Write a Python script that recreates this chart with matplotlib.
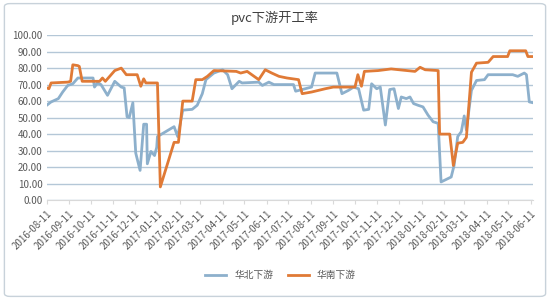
import numpy as np
import pandas as pd
import matplotlib
matplotlib.use('Agg')
import matplotlib.pyplot as plt
from matplotlib.patches import FancyBboxPatch

plt.rcParams['font.family'] = ['Noto Sans CJK SC', 'DejaVu Sans']

# 华北下游
north_dates = ['2016-08-11', '2016-08-17', '2016-08-27', '2016-09-02', '2016-09-09', '2016-09-16',
               '2016-09-23', '2016-10-14', '2016-10-16', '2016-10-20', '2016-10-25', '2016-11-03',
               '2016-11-13', '2016-11-22', '2016-11-26', '2016-11-30', '2016-12-03', '2016-12-08',
               '2016-12-12', '2016-12-18', '2016-12-23', '2016-12-27', '2016-12-28', '2017-01-02',
               '2017-01-07', '2017-01-10', '2017-01-11', '2017-02-03', '2017-02-08', '2017-02-15',
               '2017-02-28', '2017-03-07', '2017-03-14', '2017-03-19', '2017-03-30', '2017-04-11',
               '2017-04-18', '2017-04-24', '2017-05-04', '2017-05-08', '2017-05-31', '2017-06-05',
               '2017-06-14', '2017-06-21', '2017-07-18', '2017-07-21', '2017-07-30', '2017-08-12',
               '2017-08-17', '2017-09-16', '2017-09-23', '2017-10-02', '2017-10-09', '2017-10-16',
               '2017-10-23', '2017-10-30', '2017-11-03', '2017-11-10', '2017-11-15', '2017-11-22',
               '2017-11-28', '2017-12-04', '2017-12-10', '2017-12-14', '2017-12-21', '2017-12-26',
               '2017-12-31', '2018-01-06', '2018-01-13', '2018-01-20', '2018-01-27', '2018-02-03',
               '2018-02-07', '2018-02-21', '2018-02-25', '2018-03-02', '2018-03-07', '2018-03-11',
               '2018-03-14', '2018-03-21', '2018-03-28', '2018-04-08', '2018-04-13', '2018-05-17',
               '2018-05-24', '2018-06-02', '2018-06-05', '2018-06-09', '2018-06-14']
north_vals = [57.5, 59.5, 61.5, 65.5, 69.5, 70.5,
              74, 74, 68.5, 71, 70, 63.5,
              72, 68.5, 68, 50.5, 50, 59,
              28.5, 18, 46, 46, 22, 29.5,
              27, 32, 38.5, 44.5, 38.5, 54.5,
              55, 57.5, 64.5, 73, 77, 79,
              76, 67.5, 72, 71, 71.5, 69.5,
              71.5, 70, 70, 66, 67, 68.5,
              77, 77, 64.5, 66.5, 68.5, 67.5,
              54.5, 55, 70.5, 67.5, 68.5, 45.5,
              67, 67.5, 55.5, 62.5, 61.5, 62.5,
              58.5, 57.5, 56.5, 51.5, 47.5, 46.5,
              11, 14, 21, 38.5, 41.5, 51,
              42.5, 66.5, 72.5, 73, 76, 76,
              75, 77, 76, 59.5, 59]

# 华南下游
south_dates = ['2016-08-11', '2016-08-14', '2016-08-17', '2016-09-09', '2016-09-13', '2016-09-16',
               '2016-09-23', '2016-09-25', '2016-09-29', '2016-10-23', '2016-10-27', '2016-10-31',
               '2016-11-13', '2016-11-22', '2016-11-29', '2016-12-14', '2016-12-19', '2016-12-23',
               '2016-12-26', '2017-01-11', '2017-01-15', '2017-02-03', '2017-02-09', '2017-02-15',
               '2017-02-28', '2017-03-05', '2017-03-14', '2017-03-21', '2017-03-30', '2017-04-30',
               '2017-05-06', '2017-05-15', '2017-05-31', '2017-06-09', '2017-06-18', '2017-06-28',
               '2017-07-09', '2017-07-25', '2017-07-30', '2017-08-12', '2017-08-31', '2017-09-11',
               '2017-10-11', '2017-10-15', '2017-10-20', '2017-10-24', '2017-11-12', '2017-11-30',
               '2018-01-02', '2018-01-09', '2018-01-16', '2018-02-03', '2018-02-05', '2018-02-19',
               '2018-02-24', '2018-03-02', '2018-03-09', '2018-03-14', '2018-03-21', '2018-03-28',
               '2018-04-13', '2018-04-20', '2018-05-10', '2018-05-13', '2018-06-04', '2018-06-07',
               '2018-06-14']
south_vals = [68, 67.5, 71, 71.5, 72, 82,
              81.5, 81, 72, 72, 74, 72,
              78.5, 80, 76, 76, 69, 73.5,
              71, 71, 8, 35, 35, 60,
              60, 73, 73, 75, 78.5, 78,
              77, 78, 73, 79, 77, 75,
              74, 73, 64.5, 65.5, 67.5, 68.5,
              68.5, 76, 69, 78, 78.5, 79.5,
              78, 80.5, 79, 78.5, 40, 40,
              21, 34.5, 35, 38, 77.5, 83,
              83.5, 87, 87, 90.5, 90.5, 87,
              87]

tick_dates = pd.date_range('2016-08-01', '2018-06-01', freq='MS') + pd.Timedelta(days=10)
y_ticks = np.arange(0, 101, 10)

fig = plt.figure(figsize=(5.5, 3.0), dpi=100)
ax = fig.add_axes([0.085, 0.333, 0.884, 0.55])

ax.plot(pd.to_datetime(north_dates), north_vals, color='#8db0cc', lw=2.0, label='华北下游')
ax.plot(pd.to_datetime(south_dates), south_vals, color='#e07a36', lw=2.0, label='华南下游')

ax.set_ylim(0, 100)
ax.set_xlim(pd.Timestamp('2016-08-11'), pd.Timestamp('2018-06-14'))
ax.set_yticks(y_ticks)
ax.set_yticklabels(['%.2f' % v for v in y_ticks], fontsize=7, color='#595959')
ax.set_xticks(tick_dates)
ax.set_xticklabels([d.strftime('%Y-%m-%d') for d in tick_dates], rotation=45,
                   ha='right', rotation_mode='anchor', fontsize=7, color='#595959')
ax.tick_params(axis='y', length=0, pad=3)
ax.tick_params(axis='x', length=3, color='#d9d9d9', pad=3)

ax.grid(axis='y', color='#b4c7d7', lw=1.0)
ax.set_axisbelow(True)
for s in ['top', 'right', 'left']:
    ax.spines[s].set_visible(False)
ax.spines['bottom'].set_color('#d9d9d9')

fig.text(0.5, 0.94, 'pvc下游开工率', ha='center', va='center', fontsize=9.5, color='#404040')

fig.legend(loc='center', bbox_to_anchor=(0.51, 0.083), ncol=2, frameon=False,
           fontsize=7, handlelength=2.2, columnspacing=1.5, labelcolor='#595959')

border = FancyBboxPatch((0.008, 0.012), 0.984, 0.976, boxstyle='round,pad=0,rounding_size=0.01',
                        transform=fig.transFigure, fill=False, ec='#c8d2da', lw=1.0)
fig.patches.append(border)

fig.savefig('out.png', dpi=100)
